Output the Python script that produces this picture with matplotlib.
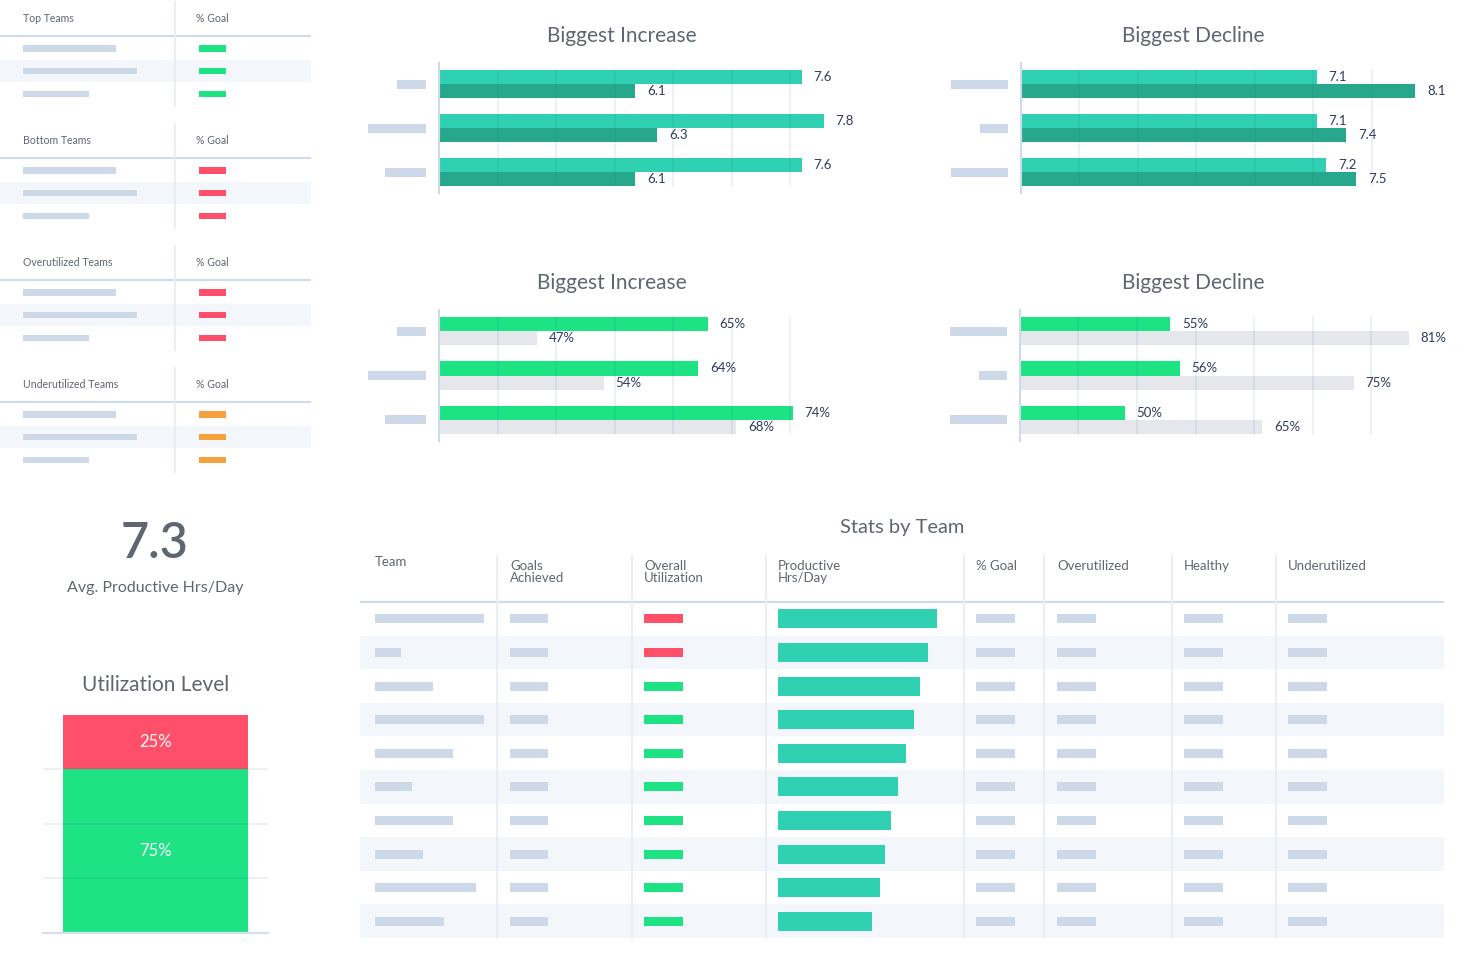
import numpy as np
import matplotlib
matplotlib.use('Agg')
import matplotlib.pyplot as plt

plt.rcParams['font.family'] = ['Lato', 'DejaVu Sans']

W, H = 1472, 973

# ---- data ---------------------------------------------------------------
team_tables = ['Top Teams', 'Bottom Teams', 'Overutilized Teams', 'Underutilized Teams']
team_table_colors = ['#1de385', '#ff4f69', '#ff4f69', '#f5a13c']
team_name_len = [93, 114, 66]          # widths of the blurred name placeholders

inc_name_len = [29, 58, 41]
dec_name_len = [57, 28, 57]

hrs_increase_now = [7.6, 7.8, 7.6]
hrs_increase_prev = [6.1, 6.3, 6.1]
hrs_decline_now = [7.1, 7.1, 7.2]
hrs_decline_prev = [8.1, 7.4, 7.5]

goal_increase_now = [65, 64, 74]
goal_increase_prev = [47, 54, 68]
goal_decline_now = [55, 56, 50]
goal_decline_prev = [81, 75, 65]

avg_hrs = 7.3
util_values = [75, 25]                  # healthy, overutilized

stats_columns = ['Team', 'Goals\nAchieved', 'Overall\nUtilization', 'Productive\nHrs/Day',
                 '% Goal', 'Overutilized', 'Healthy', 'Underutilized']
stats_team_len = [109, 26, 58, 109, 78, 37, 78, 48, 101, 69]
stats_util_ok = [False, False, True, True, True, True, True, True, True, True]
stats_hrs = [8.2, 7.75, 7.3, 7.0, 6.6, 6.2, 5.85, 5.5, 5.25, 4.85]

# ---- colours --------------------------------------------------------------
C_TEXT = '#5f6672'
C_NAVY = '#2e3a5f'
C_PH = '#cdd9e8'
C_SHADE = '#f3f6fb'
C_LINE = '#cfdbe9'
C_DIV = '#e8eef6'
C_TEAL = '#2fd1b2'
C_TEAL_D = '#27a88c'
C_GREEN = '#1de385'
C_RED = '#ff4f69'
C_GREY = '#e5e7ec'


def px_rect(x0, y0, x1, y1):
    return [x0 / W, 1 - y1 / H, (x1 - x0) / W, (y1 - y0) / H]


fig = plt.figure(figsize=(W / 100, H / 100), dpi=100)
canvas = fig.add_axes([0, 0, 1, 1])
canvas.set_xlim(0, W)
canvas.set_ylim(H, 0)
canvas.axis('off')

# ---- small team tables (top left) -----------------------------------------
for i, (title, col) in enumerate(zip(team_tables, team_table_colors)):
    oy = 122 * i
    rows = oy + np.array([48.3, 71, 94])
    canvas.barh(rows[1], 311, left=0, height=22.7, color=C_SHADE)
    canvas.text(23, oy + 19, title, va='center', fontsize=7.6, color=C_TEXT)
    canvas.text(196, oy + 19, '% Goal', va='center', fontsize=7.6, color=C_TEXT)
    canvas.hlines(oy + 36, 0, 311, color=C_LINE, lw=1.5)
    canvas.vlines(175, oy + 1, oy + 107, color=C_DIV, lw=1.3)
    canvas.barh(rows, team_name_len, left=23, height=6.7, color=C_PH)
    canvas.barh(rows, 27, left=199, height=6.7, color=col)


# ---- paired bar charts ------------------------------------------------------
def pair_chart(rect, lo, hi, now, prev, c_now, c_prev, fmt, title, title_x, name_len):
    x0, y0, x1, y1 = rect
    ax = fig.add_axes(px_rect(*rect))
    ax.patch.set_alpha(0)
    y = np.arange(3)
    ax.barh(y - 0.159, now, height=0.318, color=c_now)
    ax.barh(y + 0.159, prev, height=0.318, color=c_prev)
    ax.set_xlim(lo, hi)
    ax.set_ylim(2.477, -0.477)
    for g in np.linspace(lo, hi, 8)[1:-1]:
        ax.axvline(g, ymin=0.054, ymax=0.946, color='#1f4f8f', alpha=0.1, lw=1.1)
    for k in range(3):
        ax.annotate(fmt.format(now[k]), (now[k], k - 0.159), xytext=(8.5, 0),
                    textcoords='offset points', va='center', fontsize=9.5, color=C_NAVY)
        ax.annotate(fmt.format(prev[k]), (prev[k], k + 0.159), xytext=(8.5, 0),
                    textcoords='offset points', va='center', fontsize=9.5, color=C_NAVY)
    for s in ['top', 'right', 'bottom']:
        ax.spines[s].set_visible(False)
    ax.spines['left'].set_color(C_LINE)
    ax.spines['left'].set_linewidth(1.5)
    ax.set_xticks([])
    ax.set_yticks([])
    centers = y0 + 21 + 44 * y
    canvas.barh(centers, name_len, left=x0 - 13 - np.array(name_len), height=9, color=C_PH)
    canvas.text(title_x, y0 - 27, title, ha='center', va='center', fontsize=15, color=C_TEXT)


pair_chart((439, 63, 849, 193), 4.333, 8.027, hrs_increase_now, hrs_increase_prev,
           C_TEAL, C_TEAL_D, '{:.1f}', 'Biggest Increase', 622, inc_name_len)
pair_chart((1020.6, 63, 1430, 193), 4.107, 8.247, hrs_decline_now, hrs_decline_prev,
           C_TEAL, C_TEAL_D, '{:.1f}', 'Biggest Decline', 1193, dec_name_len)
pair_chart((439, 310, 849, 441), 36.6, 79.95, goal_increase_now, goal_increase_prev,
           C_GREEN, C_GREY, '{:d}%', 'Biggest Increase', 612, inc_name_len)
pair_chart((1019.9, 310, 1430, 441), 38.56, 83.34, goal_decline_now, goal_decline_prev,
           C_GREEN, C_GREY, '{:d}%', 'Biggest Decline', 1193, dec_name_len)

# ---- KPI + utilization level ---------------------------------------------
canvas.text(155, 544, '{:.1f}'.format(avg_hrs), ha='center', va='center', fontsize=35,
            color=C_TEXT, fontweight='semibold')
canvas.text(155, 588, 'Avg. Productive Hrs/Day', ha='center', va='center', fontsize=11.5,
            color=C_TEXT)
canvas.text(156, 685, 'Utilization Level', ha='center', va='center', fontsize=15, color=C_TEXT)

ax_u = fig.add_axes(px_rect(43, 715, 268, 932.7))
ax_u.patch.set_alpha(0)
ax_u.bar(0, util_values[0], width=0.822, color=C_GREEN)
ax_u.bar(0, util_values[1], bottom=util_values[0], width=0.822, color=C_RED)
ax_u.set_xlim(-0.5, 0.5)
ax_u.set_ylim(0, 100)
for g in [25, 50, 75]:
    ax_u.axhline(g, color='#1f4f8f', alpha=0.09, lw=1.3)
ax_u.axhline(0, color='#d6e0ec', lw=1.6, clip_on=False)
ax_u.text(0, util_values[0] / 2, '{}%'.format(util_values[0]), ha='center', va='center',
          fontsize=12, color='white')
ax_u.text(0, util_values[0] + util_values[1] / 2, '{}%'.format(util_values[1]), ha='center',
          va='center', fontsize=12, color='white')
ax_u.axis('off')

# ---- stats by team table ----------------------------------------------------
canvas.text(902, 528, 'Stats by Team', ha='center', va='center', fontsize=14.5, color=C_TEXT)
row_h = 33.6
n_rows = len(stats_team_len)
yc = 602 + row_h * (np.arange(n_rows) + 0.5)
for i in range(1, n_rows, 2):
    canvas.barh(yc[i], 1084, left=360, height=row_h, color=C_SHADE)
canvas.hlines(601.7, 360, 1444, color=C_LINE, lw=1.6)
canvas.vlines([497, 632, 766, 964, 1044, 1172, 1276], 555, 938, color=C_DIV, lw=1.3)

col_x = [375, 510, 644, 778, 976, 1057, 1184, 1288]
for j, (cx, name) in enumerate(zip(col_x, stats_columns)):
    canvas.text(cx, 556 if j == 0 else 560, name, va='top', fontsize=9.5, color=C_TEXT,
                linespacing=1.0)

canvas.barh(yc, stats_team_len, left=375, height=9, color=C_PH)
canvas.barh(yc, 38, left=510, height=9, color=C_PH)
canvas.barh(yc, 39, left=644, height=9,
            color=[C_GREEN if ok else C_RED for ok in stats_util_ok])
for cx in [976, 1057, 1184, 1288]:
    canvas.barh(yc, 38.5, left=cx, height=9, color=C_PH)

ax_p = fig.add_axes(px_rect(778, 602, 964, 938))
ax_p.patch.set_alpha(0)
ax_p.barh(np.arange(n_rows) + 0.5, stats_hrs, height=19 / row_h, color=C_TEAL)
ax_p.set_xlim(0, 186 / 19.39)
ax_p.set_ylim(n_rows, 0)
ax_p.axis('off')

fig.savefig('out.png', dpi=100)
